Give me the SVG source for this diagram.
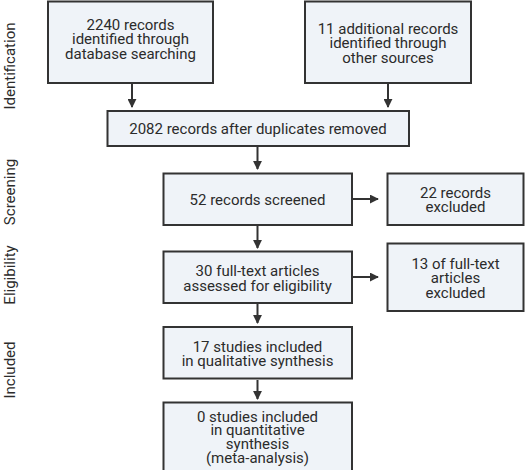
<svg xmlns="http://www.w3.org/2000/svg" width="525" height="470" viewBox="0 0 525 470">
  <style>
    .box { fill: #eff3f8; stroke: #333333; stroke-width: 2; }
    .lbl { font-family: Roboto, "Liberation Sans", sans-serif; font-size: 15px; fill: #2b2b2b; text-anchor: middle; }
    .side { font-family: Roboto, "Liberation Sans", sans-serif; font-size: 15px; fill: #2b2b2b; text-anchor: middle; }
    .edge { stroke: #333333; stroke-width: 2; fill: none; marker-end: url(#head); }
  </style>
  <defs>
    <marker id="head" viewBox="0 0 10 10" refX="9" refY="5" markerWidth="4.5" markerHeight="4.5" orient="auto" markerUnits="strokeWidth">
      <path d="M0,0 L10,5 L0,10 z" fill="#333333"/>
    </marker>
  </defs>
  <rect width="525" height="470" fill="#ffffff"/>

  <!-- stage labels -->
  <g id="stages">
    <text class="side" transform="translate(15,66) rotate(-90)">Identification</text>
    <text class="side" transform="translate(15,192) rotate(-90)">Screening</text>
    <text class="side" transform="translate(15,275) rotate(-90)">Eligibility</text>
    <text class="side" transform="translate(15,370) rotate(-90)">Included</text>
  </g>

  <!-- connectors -->
  <g id="connectors">
    <line class="edge" x1="132" y1="84" x2="132" y2="107"/>
    <line class="edge" x1="388" y1="84" x2="388" y2="107"/>
    <line class="edge" x1="257.5" y1="147" x2="257.5" y2="169"/>
    <line class="edge" x1="353" y1="199" x2="378" y2="199"/>
    <line class="edge" x1="257.5" y1="226" x2="257.5" y2="248"/>
    <line class="edge" x1="353" y1="277" x2="378" y2="277"/>
    <line class="edge" x1="257.5" y1="304" x2="257.5" y2="323"/>
    <line class="edge" x1="257.5" y1="380" x2="257.5" y2="399"/>
  </g>

  <g id="n-database">
    <rect class="box" x="48" y="1.5" width="165" height="81.5"/>
    <text class="lbl" x="130.5" y="29.5">2240 records</text>
    <text class="lbl" x="130.5" y="44">identified through</text>
    <text class="lbl" x="130.5" y="58.5">database searching</text>
  </g>

  <g id="n-other">
    <rect class="box" x="305" y="1.5" width="166" height="81.5"/>
    <text class="lbl" x="388" y="33.5">11 additional records</text>
    <text class="lbl" x="388" y="48">identified through</text>
    <text class="lbl" x="388" y="62.5">other sources</text>
  </g>

  <g id="n-dedup">
    <rect class="box" x="107.5" y="111" width="301.5" height="35"/>
    <text class="lbl" x="258" y="134">2082 records after duplicates removed</text>
  </g>

  <g id="n-screened">
    <rect class="box" x="163.5" y="173.5" width="188.5" height="51.5"/>
    <text class="lbl" x="257.5" y="204.5">52 records screened</text>
  </g>

  <g id="n-excluded">
    <rect class="box" x="387.5" y="173.5" width="136" height="51.5"/>
    <text class="lbl" x="455.5" y="197.5">22 records</text>
    <text class="lbl" x="455.5" y="211.5">excluded</text>
  </g>

  <g id="n-fulltext">
    <rect class="box" x="163.5" y="251.5" width="188.5" height="51.5"/>
    <text class="lbl" x="257.5" y="275.5">30 full-text articles</text>
    <text class="lbl" x="257.5" y="290.5">assessed for eligibility</text>
  </g>

  <g id="n-ft-excluded">
    <rect class="box" x="387.5" y="243.5" width="136" height="67.5"/>
    <text class="lbl" x="455.5" y="268.5">13 of full-text</text>
    <text class="lbl" x="455.5" y="283">articles</text>
    <text class="lbl" x="455.5" y="297.5">excluded</text>
  </g>

  <g id="n-qualitative">
    <rect class="box" x="163.5" y="327" width="188.5" height="51.5"/>
    <text class="lbl" x="257.5" y="351.5">17 studies included</text>
    <text class="lbl" x="257.5" y="366">in qualitative synthesis</text>
  </g>

  <g id="n-quantitative">
    <rect class="box" x="163.5" y="402.5" width="188.5" height="72"/>
    <text class="lbl" x="257.5" y="421.5">0 studies included</text>
    <text class="lbl" x="257.5" y="435">in quantitative</text>
    <text class="lbl" x="257.5" y="449">synthesis</text>
    <text class="lbl" x="257.5" y="462.5">(meta-analysis)</text>
  </g>
</svg>
